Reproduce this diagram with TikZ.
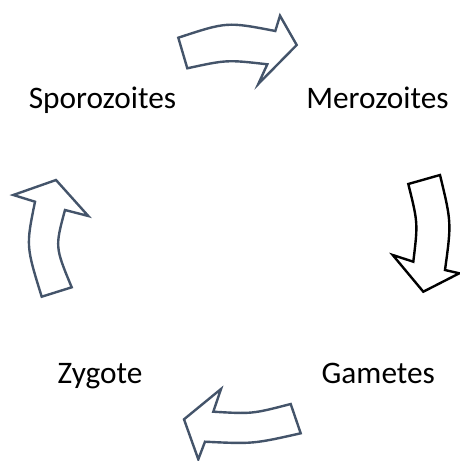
\documentclass[tikz,border=0pt]{standalone}
\usepackage{fontspec}
\setmainfont{Carlito}
\definecolor{slate}{HTML}{44546A}
\begin{document}
\begin{tikzpicture}[x=0.75pt,y=-0.75pt,
  cyc/.style={draw=slate,line width=1.8pt,fill=white,line join=miter},
  lbl/.style={anchor=base,inner sep=0pt,font=\fontsize{23.5pt}{28pt}\selectfont}]
\useasboundingbox (0,0) rectangle (460,461);
\node[lbl] (spo) at (102.5,108.3) {Sporozoites};
\node[lbl] (mer) at (377.5,108.3) {Merozoites};
\node[lbl] (zyg) at (100,383.3) {Zygote};
\node[lbl] (gam) at (378.3,383.3) {Gametes};
% top arrow
\draw[cyc] (178.3,37.7) .. controls (227,21.7) .. (275.3,31) -- (280,15.7) -- (296.7,45) -- (258.3,84) -- (267.3,64.3) .. controls (227,59.7) .. (187.3,68.3) -- cycle;
% right arrow
\draw[cyc,draw=black] (408.3,184) -- (440,175) .. controls (451.5,222.5) .. (445,270) -- (459.3,273.3) -- (423.3,291.7) -- (392.7,255) -- (413.3,261.7) .. controls (418,223) .. (408.3,184) -- cycle;
% bottom arrow
\draw[cyc] (290.7,404) -- (300.7,433.3) .. controls (253,444) .. (205,441.7) -- (198.3,459.3) -- (184,419.3) -- (221,389) -- (213.3,411.7) .. controls (252,414) .. (290.7,404) -- cycle;
% left arrow
\draw[cyc] (41.7,296.7) -- (71.7,287.3) .. controls (55,247) .. (65,210) -- (88.3,216) -- (56,180) -- (13.3,195) -- (35,201.7) .. controls (26,246) .. (41.7,296.7) -- cycle;
\end{tikzpicture}
\end{document}
